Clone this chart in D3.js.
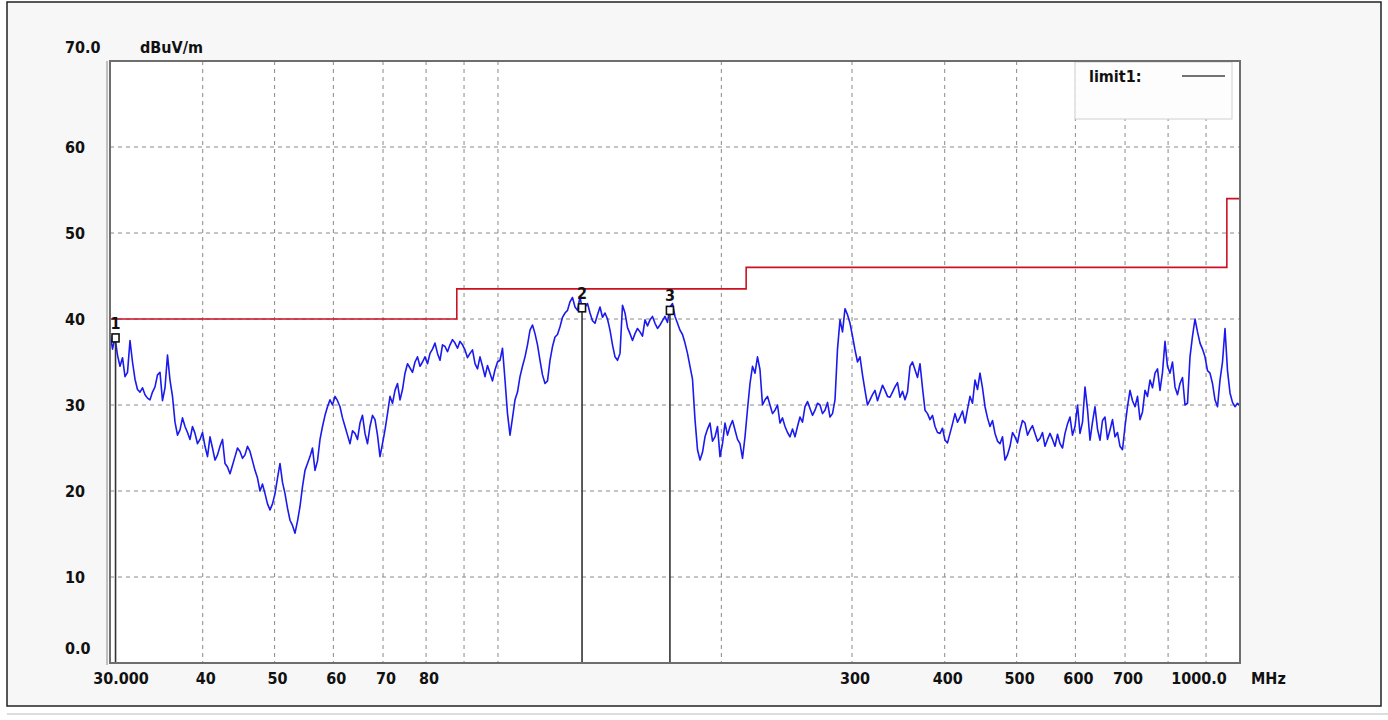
<!DOCTYPE html>
<html>
<head>
<meta charset="utf-8">
<script src="https://cdn.jsdelivr.net/npm/d3@7"></script>
<style>
  html, body { margin: 0; padding: 0; background: #ffffff; }
  svg { display: block; }
  text { font-family: "Liberation Sans Narrow", "DejaVu Sans Condensed", "Liberation Sans", Arial, sans-serif; font-weight: bold; fill: #111; }
</style>
</head>
<body>
<svg id="chart" width="1388" height="720"></svg>
<script>
// ---- data ----
const startFreq = 30;      // MHz, sweep start
const stopFreq = 1000;     // MHz, sweep stop
// measured level (dBuV/m) at the even points of the log-spaced sweep
const levels = [
  38.5, 37.8, 34.5, 33.3, 37.5, 33.0, 31.5, 31.2, 30.6, 32.1,
  33.8, 32.0, 32.9, 28.0, 27.1, 27.5, 26.0, 26.7, 26.0, 25.2,
  26.3, 23.6, 25.2, 23.2, 22.0, 24.0, 24.6, 24.2, 24.6, 22.4,
  20.0, 19.7, 17.8, 19.7, 23.2, 19.7, 16.6, 15.1, 18.2, 22.4,
  24.0, 22.4, 26.0, 28.8, 30.6, 31.0, 29.8, 27.5, 25.5, 26.7,
  27.9, 26.7, 27.5, 28.3, 24.0, 27.1, 31.0, 31.7, 30.6, 33.7,
  34.3, 35.0, 34.5, 35.6, 36.0, 37.2, 35.2, 36.8, 37.0, 37.2,
  37.4, 36.4, 36.0, 34.8, 35.6, 33.3, 33.7, 34.1, 35.2, 32.9,
  26.5, 30.6, 33.3, 35.6, 38.7, 38.3, 35.2, 32.5, 35.2, 37.9,
  39.1, 40.7, 42.0, 41.4, 42.6, 41.4, 40.7, 39.5, 41.4, 40.7,
  38.7, 35.6, 36.0, 40.7, 38.3, 38.3, 38.5, 39.9, 39.9, 39.5,
  39.3, 40.3, 41.4, 40.3, 38.7, 37.2, 34.5, 28.3, 23.6, 26.3,
  27.9, 26.3, 24.0, 27.9, 27.5, 27.1, 25.5, 26.3, 32.5, 33.7,
  34.1, 30.6, 30.0, 29.4, 27.9, 27.5, 26.3, 26.3, 28.6, 29.8,
  29.6, 29.4, 30.0, 29.4, 28.6, 30.6, 39.9, 41.2, 39.5, 36.4,
  35.6, 31.7, 30.6, 31.7, 31.4, 31.7, 30.9, 32.1, 30.9, 30.6,
  34.5, 34.1, 34.8, 29.4, 28.3, 27.5, 26.7, 25.9, 26.7, 29.0,
  28.6, 27.9, 31.0, 32.9, 33.7, 29.8, 27.5, 26.7, 25.5, 23.6,
  25.2, 26.3, 27.1, 27.9, 27.1, 26.7, 26.1, 25.2, 26.7, 25.2,
  25.5, 26.7, 28.6, 27.5, 26.7, 32.1, 25.9, 29.8, 25.9, 28.6,
  27.1, 26.3, 25.2, 27.5, 31.7, 29.8, 28.3, 31.7, 32.9, 33.7,
  31.7, 37.4, 33.7, 32.1, 32.5, 30.0, 35.6, 40.0, 37.2, 35.6,
  33.7, 30.6, 32.9, 38.9, 31.4, 29.8, 29.9
];
// measured level (dBuV/m) at the odd points of the sweep (between the even ones)
const levelsMid = [
  36.5, 35.8, 35.5, 33.8, 35.0, 31.8, 32.0, 30.8, 31.5, 33.5,
  30.5, 35.8, 31.0, 26.5, 28.5, 26.8, 27.5, 25.5, 26.8, 24.0,
  25.0, 24.2, 26.0, 22.8, 23.0, 25.0, 23.8, 25.2, 23.5, 21.5,
  20.8, 18.5, 18.5, 21.5, 21.0, 18.0, 16.0, 16.5, 20.5, 23.2,
  25.0, 23.5, 27.5, 29.8, 30.0, 30.5, 28.5, 26.5, 27.0, 26.0,
  28.8, 25.5, 28.8, 26.5, 25.5, 29.0, 30.2, 32.5, 31.8, 34.8,
  33.8, 35.6, 35.0, 34.8, 36.5, 36.0, 37.0, 36.2, 37.6, 36.6,
  37.0, 35.5, 36.4, 34.2, 34.5, 34.6, 32.8, 35.0, 36.6, 29.0,
  28.5, 31.5, 34.5, 37.0, 39.3, 37.0, 33.5, 32.8, 36.8, 38.2,
  40.2, 41.0, 42.5, 41.0, 41.0, 41.8, 39.8, 40.5, 40.2, 40.0,
  37.0, 35.2, 41.6, 39.0, 37.5, 38.9, 38.0, 39.2, 40.3, 38.9,
  39.8, 39.6, 41.8, 39.5, 38.2, 36.0, 33.0, 24.8, 24.5, 27.2,
  25.8, 27.5, 25.5, 26.5, 28.2, 26.0, 23.8, 29.5, 34.5, 35.6,
  30.0, 31.0, 29.0, 30.0, 28.5, 26.8, 27.2, 27.5, 28.0, 30.4,
  28.8, 30.2, 29.0, 30.3, 29.0, 36.5, 38.5, 40.5, 38.0, 35.0,
  33.5, 30.0, 31.2, 30.5, 32.3, 31.0, 31.5, 32.6, 31.6, 31.5,
  35.0, 33.2, 32.0, 29.0, 28.8, 26.8, 27.3, 25.6, 27.8, 28.0,
  29.3, 29.5, 30.2, 31.8, 32.0, 28.5, 28.2, 25.8, 26.3, 24.2,
  26.8, 25.6, 28.2, 26.5, 27.6, 25.8, 26.8, 26.0, 26.0, 26.6,
  25.0, 27.8, 26.5, 30.0, 28.0, 29.5, 28.0, 27.2, 28.2, 26.0,
  28.3, 26.8, 24.8, 29.8, 30.5, 31.0, 29.2, 31.0, 32.0, 34.2,
  33.8, 34.5, 35.0, 31.2, 33.2, 30.2, 38.0, 38.5, 36.5, 34.0,
  32.5, 29.8, 35.0, 34.0, 30.3, 30.2
];
// limit line (step after each edge)
const limitFreqs = [30, 88, 216, 960, 1000];
const limitValues = [40, 43.5, 46, 54, 54];
// markers
const markerIds = ["1", "2", "3"];
const markerFreqs = [30.52, 129.8, 170.5];
const markerValues = [37.8, 41.3, 41.0];
// axes
const yTicks = [10, 20, 30, 40, 50, 60];
const yTickLabels = ["10", "20", "30", "40", "50", "60"];
const xGridFreqs = [40, 50, 60, 70, 80, 90, 100, 200, 300, 400, 500, 600, 700, 800, 900];
const xTickFreqs = [30, 40, 50, 60, 70, 80, 300, 400, 500, 600, 700, 1000];
const xTickLabels = ["30.000", "40", "50", "60", "70", "80", "300", "400", "500", "600", "700", "1000.0"];

// ---- drawing ----
const svg = d3.select("#chart");
const L = 110, R = 1240, T = 61, B = 663;
const FS = 16;
const x = d3.scaleLog().domain([startFreq, stopFreq]).range([L, R]);
const y = d3.scaleLinear().domain([0, 70]).range([B, T]);

// outer frame
svg.append("rect").attr("x", 0).attr("y", 0).attr("width", 1388).attr("height", 720).attr("fill", "#ffffff");
svg.append("rect").attr("x", 7).attr("y", 2).attr("width", 1374).attr("height", 704)
  .attr("fill", "#f7f7f7").attr("stroke", "#222").attr("stroke-width", 1.5);
svg.append("line").attr("x1", 7).attr("x2", 1388).attr("y1", 714).attr("y2", 714)
  .attr("stroke", "#bbb").attr("stroke-width", 1);

// plot area
svg.append("rect").attr("x", L).attr("y", T).attr("width", R - L).attr("height", B - T).attr("fill", "#ffffff");

// grid
const grid = svg.append("g").attr("stroke", "#8a8a8a").attr("stroke-width", 1).attr("stroke-dasharray", "4,4");
grid.selectAll("line.h").data(yTicks).join("line")
  .attr("x1", L).attr("x2", R).attr("y1", d => y(d)).attr("y2", d => y(d));
grid.selectAll("line.v").data(xGridFreqs).join("line")
  .attr("x1", d => x(d)).attr("x2", d => x(d)).attr("y1", T).attr("y2", B);

// legend box
const lg = svg.append("g");
lg.append("rect").attr("x", 1075).attr("y", 62).attr("width", 157).attr("height", 57)
  .attr("fill", "#fdfdfd").attr("stroke", "#d0d0d0").attr("stroke-width", 1);
lg.append("text").attr("x", 1089).attr("y", 82).attr("font-size", FS).text("limit1:");
lg.append("line").attr("x1", 1182).attr("x2", 1225).attr("y1", 76).attr("y2", 76)
  .attr("stroke", "#444").attr("stroke-width", 1.5);

// limit line
const limitPts = limitFreqs.map((f, i) => [f, limitValues[i]]);
svg.append("path").datum(limitPts)
  .attr("d", d3.line().x(d => x(d[0])).y(d => y(d[1])).curve(d3.curveStepAfter))
  .attr("fill", "none").attr("stroke", "#cc1122").attr("stroke-width", 1.6);

// trace: interleave even and odd sweep points
const n = levels.length + levelsMid.length;
const trace = [];
for (let k = 0; k < n; k++) {
  const v = (k % 2 === 0) ? levels[k / 2] : levelsMid[(k - 1) / 2];
  trace.push([startFreq * Math.pow(stopFreq / startFreq, k / (n - 1)), v]);
}
svg.append("path").datum(trace)
  .attr("d", d3.line().x(d => x(d[0])).y(d => y(d[1])))
  .attr("fill", "none").attr("stroke", "#1a1aee").attr("stroke-width", 1.6).attr("stroke-linejoin", "round");

// markers
const mk = svg.append("g");
markerIds.forEach((id, i) => {
  const mx = x(markerFreqs[i]), my = y(markerValues[i]);
  mk.append("line").attr("x1", mx).attr("x2", mx).attr("y1", B).attr("y2", my + 4)
    .attr("stroke", "#333").attr("stroke-width", 1.6);
  mk.append("rect").attr("x", mx - 3.5).attr("y", my - 4).attr("width", 7).attr("height", 8)
    .attr("fill", "#fff").attr("stroke", "#111").attr("stroke-width", 1.6);
  mk.append("text").attr("x", mx).attr("y", my - 9).attr("text-anchor", "middle")
    .attr("font-size", FS).attr("fill", "#1a1a3a").text(id);
});

// plot border
svg.append("rect").attr("x", L).attr("y", T).attr("width", R - L).attr("height", B - T)
  .attr("fill", "none").attr("stroke", "#6e6e6e").attr("stroke-width", 2);
svg.append("line").attr("x1", L - 3).attr("x2", L - 3).attr("y1", T).attr("y2", B + 2)
  .attr("stroke", "#888").attr("stroke-width", 1);

// y labels
const yl = svg.append("g").attr("font-size", FS);
yl.selectAll("text").data(yTicks).join("text")
  .attr("x", 65).attr("y", d => y(d)).attr("dy", "0.35em")
  .text((d, i) => yTickLabels[i]);
yl.append("text").attr("x", 65).attr("y", 654).text("0.0");
yl.append("text").attr("x", 65).attr("y", 53).text("70.0");
yl.append("text").attr("x", 140).attr("y", 53).text("dBuV/m");

// x labels
const xl = svg.append("g").attr("font-size", FS);
xl.selectAll("text").data(xTickFreqs).join("text")
  .attr("x", (d, i) => i === 0 ? 121 : (i === xTickFreqs.length - 1 ? 1199 : x(d) + 3))
  .attr("y", 684).attr("text-anchor", "middle")
  .text((d, i) => xTickLabels[i]);
xl.append("text").attr("x", 1251).attr("y", 684).text("MHz");
</script>
</body>
</html>
